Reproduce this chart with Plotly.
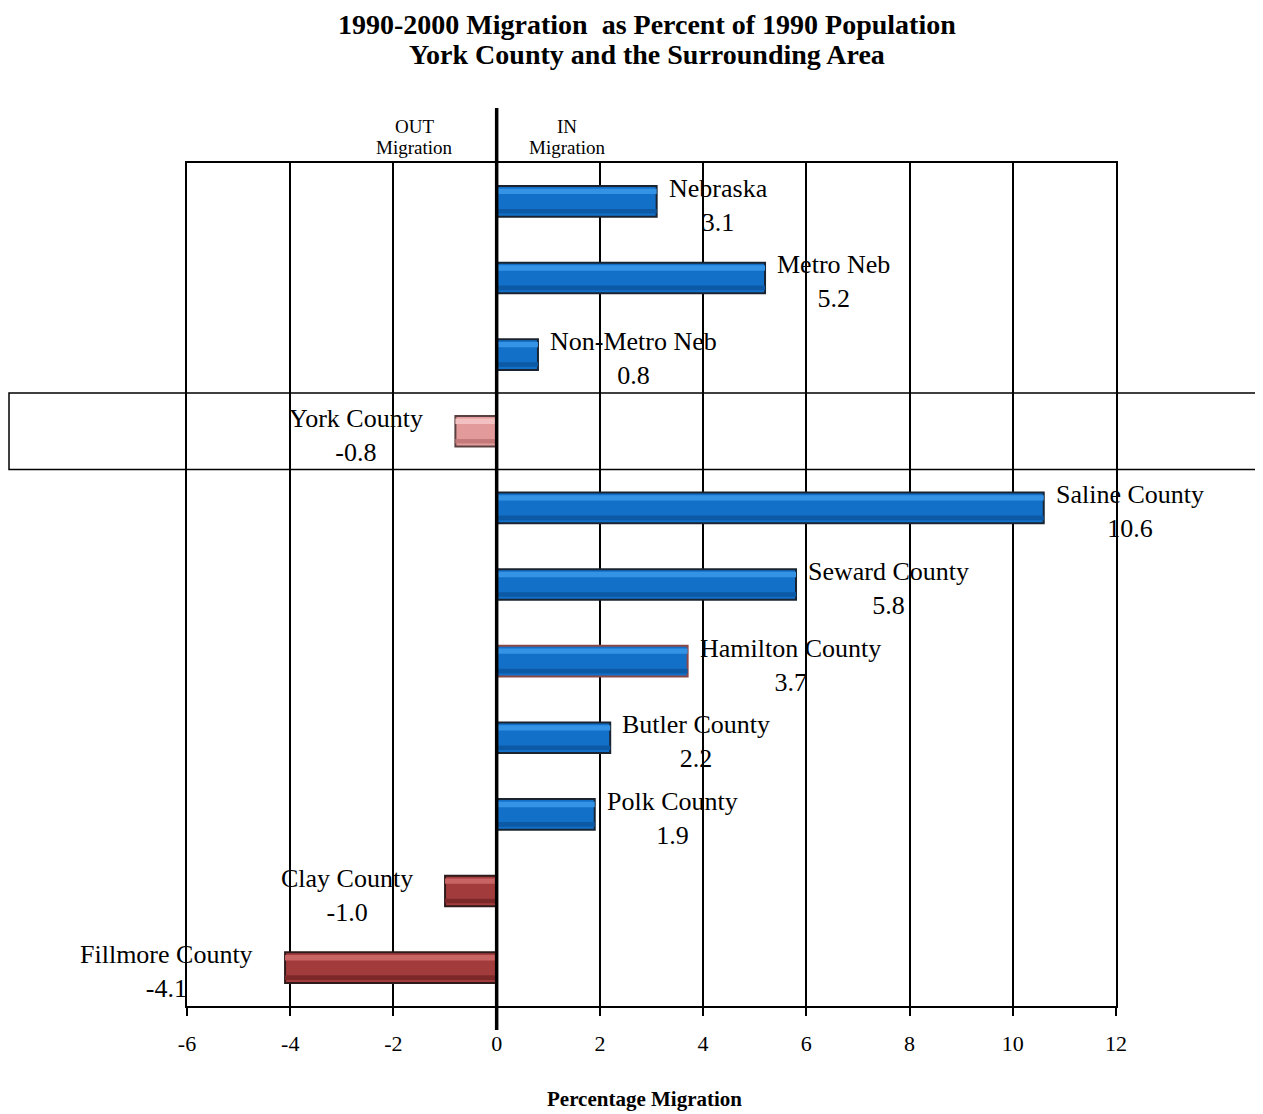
import plotly.graph_objects as go

categories = ["Nebraska", "Metro Neb", "Non-Metro Neb", "York County", "Saline County",
              "Seward County", "Hamilton County", "Butler County", "Polk County",
              "Clay County", "Fillmore County"]
values = [3.1, 5.2, 0.8, -0.8, 10.6, 5.8, 3.7, 2.2, 1.9, -1.0, -4.1]
x_ticks = [-6, -4, -2, 0, 2, 4, 6, 8, 10, 12]
focus = "York County"
title_lines = ["1990-2000 Migration  as Percent of 1990 Population",
               "York County and the Surrounding Area"]

FONT = "Liberation Serif"
W, H = 1263, 1114
OFF = 7  # page offset of the plot div
L, T = 186 - OFF, 162 - OFF
PW, PH = 929, 843
R, B = W - L - PW, H - T - PH

def px_to_paper_x(px):
    return (px - OFF - L) / PW

def px_to_paper_y(py):
    return 1 - (py - OFF - T) / PH

base, edge, light, dark = [], [], [], []
for c, v in zip(categories, values):
    if c == focus:
        base.append("#e29a9a"); edge.append("#5a4040"); light.append("#f2c0c0"); dark.append("#c47a7a")
    elif v < 0:
        base.append("#a23c3c"); edge.append("#2e1a1a"); light.append("#c96464"); dark.append("#7c2828")
    else:
        base.append("#1370c8"); edge.append("#8a4848" if c == "Hamilton County" else "#1a2430")
        light.append("#3593e6"); dark.append("#0c5aa6")

fig = go.Figure()
fig.add_trace(go.Bar(y=categories, x=values, orientation="h", width=0.4,
                     marker=dict(color=base, line=dict(color=edge, width=2)),
                     showlegend=False, hoverinfo="skip"))
fig.add_trace(go.Bar(y=categories, x=values, orientation="h", width=0.07, offset=-0.165,
                     marker=dict(color=light, line=dict(width=0)),
                     showlegend=False, hoverinfo="skip"))
fig.add_trace(go.Bar(y=categories, x=values, orientation="h", width=0.06, offset=0.1,
                     marker=dict(color=dark, line=dict(width=0)),
                     showlegend=False, hoverinfo="skip"))

for c, v in zip(categories, values):
    txt = f"{c}<br>{v:.1f}"
    pos = v >= 0
    fig.add_annotation(x=v, y=c, text=txt, xanchor="left" if pos else "right",
                       xshift=10 if pos else -30, yshift=-4,
                       showarrow=False, align="center",
                       font=dict(family=FONT, size=26, color="black"))

# zero line extending above and below plot
fig.add_shape(type="line", xref="x", yref="paper", x0=0, x1=0,
              y0=px_to_paper_y(1029), y1=px_to_paper_y(107),
              line=dict(color="black", width=3.5), layer="above")

# highlight box around the focus row
fi = categories.index(focus)
fig.add_shape(type="rect", xref="paper", yref="y", x0=px_to_paper_x(8),
              x1=px_to_paper_x(1262), y0=fi - 0.5, y1=fi + 0.5,
              line=dict(color="black", width=1.5), fillcolor="rgba(0,0,0,0)", layer="above")

# OUT / IN labels
for x_px, words in [(413, ["OUT", "Migration"]), (566, ["IN", "Migration"])]:
    for y_px, w in zip([125, 147], words):
        fig.add_annotation(x=px_to_paper_x(x_px), y=px_to_paper_y(y_px), xref="paper", yref="paper",
                           xanchor="center", yanchor="middle", text=w, showarrow=False,
                           font=dict(family=FONT, size=19, color="black"))

# title lines
fig.add_annotation(x=px_to_paper_x(646), y=px_to_paper_y(OFF), xref="paper", yref="paper",
                   xanchor="center", yanchor="top", text=f"<b>{title_lines[0]}</b>",
                   showarrow=False, borderpad=0,
                   font=dict(family=FONT, size=28, color="black"))
fig.add_annotation(x=px_to_paper_x(646), y=px_to_paper_y(53), xref="paper", yref="paper",
                   xanchor="center", yanchor="middle", text=f"<b>{title_lines[1]}</b>",
                   showarrow=False, borderpad=0,
                   font=dict(family=FONT, size=28, color="black"))

fig.add_annotation(x=px_to_paper_x(643), y=px_to_paper_y(1098), xref="paper", yref="paper",
                   yanchor="middle", text="<b>Percentage Migration</b>", showarrow=False,
                   font=dict(family=FONT, size=21, color="black"))

fig.update_layout(
    width=W, height=H,
    margin=dict(l=L, r=R, t=T, b=B),
    plot_bgcolor="white", paper_bgcolor="white",
    barmode="overlay",
    xaxis=dict(range=[-6, 12], tickvals=x_ticks, ticktext=[str(t) for t in x_ticks],
               showgrid=True, gridcolor="black", gridwidth=1.5, zeroline=False,
               showline=True, linecolor="black", linewidth=2, mirror=True,
               ticks="outside", ticklen=8, tickwidth=1.5, tickcolor="black",
               ticklabelstandoff=9,
               tickfont=dict(family=FONT, size=22, color="black")),
    yaxis=dict(autorange="reversed", showticklabels=False, showgrid=False,
               showline=True, linecolor="black", linewidth=1.5, mirror=True, ticks=""),
)

fig.write_html("out.html")
